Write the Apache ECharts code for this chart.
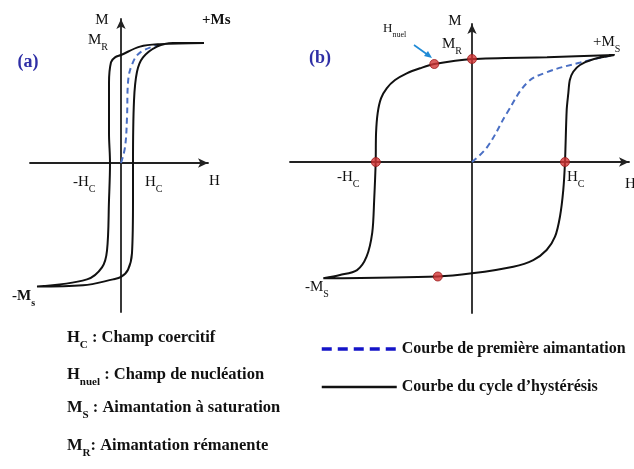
<!DOCTYPE html>
<html><head><meta charset="utf-8">
<script src="https://cdn.jsdelivr.net/npm/echarts@6/dist/echarts.min.js"></script>
<style>html,body{margin:0;padding:0;background:#fff}#c{width:634px;height:469px}</style>
</head><body><div id="c"></div>
<script>
// ---- Panel (a): hysteresis loop of a hard (square) material, [H, M]
const loopA_down = [[0.83,1.0],[0.39,0.99],[0.19,0.97],[0.0,0.9],[-0.06,0.88],[-0.10,0.84],[-0.12,0.67],[-0.12,0.25],[-0.11,0],[-0.12,-0.31],[-0.14,-0.73],[-0.19,-0.87],[-0.34,-0.97],[-0.84,-1.03]];
const loopA_up = [[-0.84,-1.03],[-0.38,-1.02],[-0.08,-0.97],[0,-0.95],[0.07,-0.89],[0.11,-0.75],[0.12,-0.31],[0.12,0],[0.13,0.52],[0.16,0.76],[0.22,0.88],[0.36,0.97],[0.52,1.0],[0.83,1.0]];
const firstA = [[0,0],[0.04,0.13],[0.06,0.38],[0.07,0.67],[0.11,0.82],[0.19,0.92],[0.36,0.98]];
// ---- Panel (b)
const loopB_down = [[1.5,1.0],[0.79,0.98],[0,0.963],[-0.397,0.916],[-0.547,0.876],[-0.687,0.829],[-0.81,0.766],[-0.898,0.689],[-0.958,0.595],[-0.993,0.458],[-1.01,0.271],[-1.014,0],[-1.03,-0.36],[-1.05,-0.66],[-1.11,-0.885],[-1.21,-1.01],[-1.39,-1.056],[-1.565,-1.087]];
const loopB_up = [[-1.565,-1.087],[-0.36,-1.07],[0,-1.04],[0.435,-0.978],[0.645,-0.916],[0.786,-0.822],[0.874,-0.698],[0.926,-0.511],[0.961,-0.262],[0.979,0],[0.997,0.486],[1.014,0.642],[1.03,0.766],[1.066,0.844],[1.137,0.907],[1.277,0.96],[1.5,1.0]];
const firstB = [[0,0],[0.16,0.14],[0.37,0.46],[0.58,0.74],[0.79,0.84],[1.14,0.93],[1.48,1.0]];
const pointsB = [[0,0.963],[-0.397,0.916],[-1.012,0],[0.979,0],[-0.36,-1.07]];
// ---- Texts
const NAME_DASH = 'Courbe de première aimantation';
const NAME_SOLID = 'Courbe du cycle d’hystérésis';
const defs = [['H','C',' : Champ coercitif'],['H','nuel',' : Champ de nucléation'],['M','S',' : Aimantation à saturation'],['M','R',': Aimantation rémanente']];

const SERIF = "'Liberation Serif','Times New Roman',serif";
const chart = echarts.init(document.getElementById('c'), null, {renderer:'canvas'});

function rich(x, y, main, sub, rest, size, bold, align) {
  const w = bold ? 'bold' : 'normal';
  const sz = size, ss = Math.round(size*0.65);
  const lh = Math.round(size*1.3);
  return {
    type:'text', x:x, y:y, z:100,
    style:{
      text:'{m|'+main+'}'+(sub?'{s|'+sub+'}':'')+(rest?'{m|'+rest+'}':''),
      align: align||'left', verticalAlign:'middle',
      rich:{
        m:{fontFamily:SERIF,fontSize:sz,fontWeight:w,fill:'#111',lineHeight:lh,verticalAlign:'top'},
        s:{fontFamily:SERIF,fontSize:ss,fontWeight:w,fill:'#111',lineHeight:ss,verticalAlign:'top',padding:[Math.round(lh/2+size*0.28-ss/2),0,0,0]}
      }
    }
  };
}
function plain(x, y, t, size, bold, color, align) {
  return {type:'text', x:x, y:y, z:100, style:{text:t, fontFamily:SERIF, fontSize:size, fontWeight:bold?'bold':'normal', fill:color||'#111', align:align||'left', verticalAlign:'middle'}};
}

const graphics = [
  // panel a
  plain(102,20,'M',15,false,null,'center'),
  rich(88,43,'M','R','',15,false),
  plain(202,20,'+Ms',15,true),
  plain(28,62,'(a)',18,true,'#2f2fa6','center'),
  rich(73,185,'-H','C','',15,false),
  rich(145,185,'H','C','',15,false),
  plain(209,181,'H',15,false),
  rich(12,299,'-M','s','',15,true),
  // panel b
  plain(455,21,'M',15,false,null,'center'),
  rich(442,47,'M','R','',15,false),
  rich(383,31,'H','nuel','',13,false),
  rich(593,45,'+M','S','',15,false),
  plain(320,58,'(b)',18,true,'#2f2fa6','center'),
  rich(337,180,'-H','C','',15,false),
  rich(567,180,'H','C','',15,false),
  plain(625,184,'H',15,false),
  rich(305,290,'-M','S','',15,false),
  // arrow for H_nuel
  {type:'line', z:100, shape:{x1:414,y1:45,x2:428,y2:55}, style:{stroke:'#1f8ad6',lineWidth:1.6}},
  {type:'polygon', z:100, shape:{points:[[432,58],[424,56],[428,51]]}, style:{fill:'#1f8ad6'}}
];
defs.forEach((d,i)=>{ graphics.push(rich(67,[340,377,410,448][i],d[0],d[1],d[2],16.5,true)); });

function ax(min,max,grid){
  return {type:'value',min:min,max:max,gridIndex:grid,
    axisLine:{show:true,onZero:true,symbol:['none','arrow'],symbolSize:[7,10],lineStyle:{color:'#222',width:1.8}},
    axisTick:{show:false},axisLabel:{show:false},splitLine:{show:false}};
}
const solid = {color:'#111',width:2};
const dash = {color:'#4a6fc4',width:2,type:[6,4]};

chart.setOption({
  animation:false,
  grid:[
    {left:30,width:178,top:19,height:293,outerBoundsMode:'none'},
    {left:290,width:339,top:24,height:289,outerBoundsMode:'none'}
  ],
  xAxis:[ax(-0.91,0.87,0), ax(-1.916,1.653,1)],
  yAxis:[ax(-1.242,1.2,0), ax(-1.411,1.29,1)],
  legend:{
    orient:'vertical', left:315, top:336, itemWidth:75, itemHeight:14, itemGap:22, itemTextGap:10,
    textStyle:{fontFamily:SERIF,fontSize:16,fontWeight:'bold',color:'#111'},
    data:[
      {name:NAME_DASH, itemStyle:{color:'rgba(0,0,0,0)',borderWidth:0}, lineStyle:{color:'#1414c8',width:3.5,type:[10,6]}},
      {name:NAME_SOLID, itemStyle:{color:'rgba(0,0,0,0)',borderWidth:0}, lineStyle:{color:'#111',width:2.5,type:'solid'}}
    ]
  },
  series:[
    {name:NAME_SOLID,type:'line',xAxisIndex:0,yAxisIndex:0,data:loopA_down.concat(loopA_up.slice(1)),symbol:'none',smooth:0.35,lineStyle:solid,z:3},
    {name:NAME_DASH,type:'line',xAxisIndex:0,yAxisIndex:0,data:firstA,symbol:'none',smooth:0.4,lineStyle:dash,z:2},
    {name:NAME_SOLID,type:'line',xAxisIndex:1,yAxisIndex:1,data:loopB_down.concat(loopB_up.slice(1)),symbol:'none',smooth:0.3,lineStyle:solid,z:3},
    {name:NAME_DASH,type:'line',xAxisIndex:1,yAxisIndex:1,data:firstB,symbol:'none',smooth:0.4,lineStyle:dash,z:2},
    {name:'points',type:'scatter',xAxisIndex:1,yAxisIndex:1,data:pointsB,symbolSize:9,itemStyle:{color:'#d23434',borderColor:'#9a1a1a',borderWidth:1},z:5}
  ],
  graphic:graphics
});
</script></body></html>
